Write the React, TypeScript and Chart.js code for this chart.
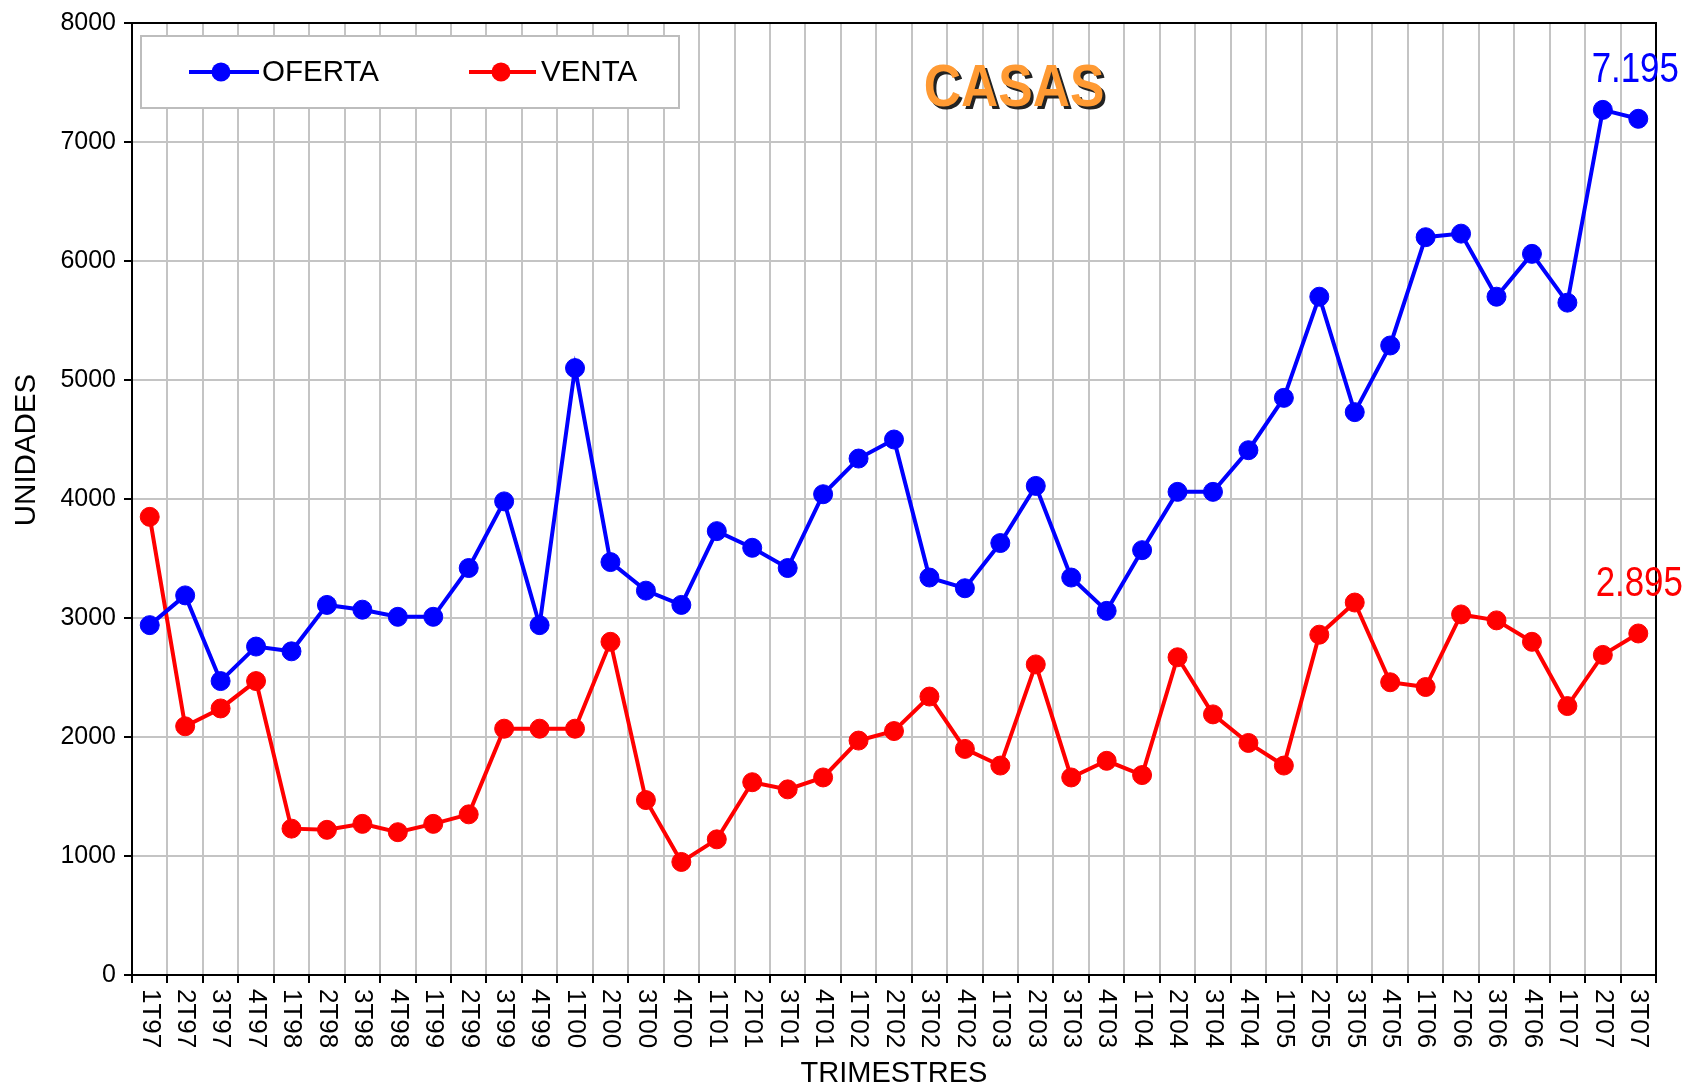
import React, { useEffect, useRef } from "react";
import { Chart, registerables } from "chart.js";

Chart.register(...registerables);

const quarters = [
  "1T97", "2T97", "3T97", "4T97",
  "1T98", "2T98", "3T98", "4T98",
  "1T99", "2T99", "3T99", "4T99",
  "1T00", "2T00", "3T00", "4T00",
  "1T01", "2T01", "3T01", "4T01",
  "1T02", "2T02", "3T02", "4T02",
  "1T03", "2T03", "3T03", "4T03",
  "1T04", "2T04", "3T04", "4T04",
  "1T05", "2T05", "3T05", "4T05",
  "1T06", "2T06", "3T06", "4T06",
  "1T07", "2T07", "3T07",
];

const oferta = [
  2940, 3190, 2470, 2760,
  2720, 3110, 3070, 3010,
  3010, 3420, 3980, 2940,
  5100, 3470, 3230, 3110,
  3730, 3590, 3420, 4040,
  4340, 4500, 3340, 3250,
  3630, 4110, 3340, 3060,
  3570, 4060, 4060, 4410,
  4850, 5700, 4730, 5290,
  6200, 6230, 5700, 6060,
  5650, 7270, 7195,
];

const venta = [
  3850, 2090, 2240, 2470,
  1230, 1220, 1270, 1200,
  1270, 1350, 2070, 2070,
  2070, 2800, 1470, 950,
  1140, 1620, 1560, 1660,
  1970, 2050, 2340, 1900,
  1760, 2610, 1660, 1800,
  1680, 2670, 2190, 1950,
  1760, 2860, 3130, 2460,
  2420, 3030, 2980, 2800,
  2260, 2690, 2870,
];

const seriesNames = ["OFERTA", "VENTA"];
const seriesColors = ["#0000FF", "#FF0000"];
const lastValueLabels = ["7.195", "2.895"];
const chartTitle = "CASAS";
const xAxisTitle = "TRIMESTRES";
const yAxisTitle = "UNIDADES";
const yMin = 0;
const yMax = 8000;
const yStep = 1000;

const FONT = '"Liberation Sans", Arial, sans-serif';

function drawScaledText(ctx: any, text: string, x: number, y: number, sx: number) {
  ctx.save();
  ctx.translate(x, y);
  ctx.scale(sx, 1);
  ctx.fillText(text, 0, 0);
  ctx.restore();
}

const overlayPlugin = {
  id: "overlay",
  afterDatasetsDraw(chart: any) {
    const { ctx, chartArea: ca } = chart;
    ctx.save();

    // frame around plot area
    ctx.strokeStyle = "#000";
    ctx.lineWidth = 2;
    ctx.strokeRect(ca.left, ca.top, ca.right - ca.left, ca.bottom - ca.top);

    // legend box
    const bx = ca.left + 9;
    const by = ca.top + 13;
    ctx.fillStyle = "#fff";
    ctx.fillRect(bx, by, 538, 72);
    ctx.strokeStyle = "#BDBDBD";
    ctx.lineWidth = 2;
    ctx.strokeRect(bx, by, 538, 72);
    const ly = by + 36;
    const items = [
      { x0: bx + 48, x1: bx + 118, dot: bx + 80, tx: bx + 121 },
      { x0: bx + 328, x1: bx + 395, dot: bx + 360, tx: bx + 400 },
    ];
    items.forEach((it, i) => {
      ctx.strokeStyle = seriesColors[i];
      ctx.lineWidth = 4;
      ctx.beginPath();
      ctx.moveTo(it.x0, ly);
      ctx.lineTo(it.x1, ly);
      ctx.stroke();
      ctx.fillStyle = seriesColors[i];
      ctx.beginPath();
      ctx.arc(it.dot, ly, 9.5, 0, Math.PI * 2);
      ctx.fill();
      ctx.fillStyle = "#000";
      ctx.font = `29.5px ${FONT}`;
      ctx.textAlign = "left";
      ctx.textBaseline = "middle";
      ctx.fillText(seriesNames[i], it.tx, ly + 1);
    });

    // title CASAS with shadow
    ctx.font = `bold 60px ${FONT}`;
    ctx.textAlign = "center";
    ctx.textBaseline = "alphabetic";
    const tx = 1014;
    const ty = 106;
    ctx.fillStyle = "#222";
    drawScaledText(ctx, chartTitle, tx + 3, ty + 3, 0.86);
    ctx.fillStyle = "#FF9A33";
    drawScaledText(ctx, chartTitle, tx, ty, 0.86);

    // last value labels
    const xs = chart.scales.x;
    const ys = chart.scales.y;
    const lastIdx = quarters.length - 1;
    const lastVals = [oferta[lastIdx], venta[lastIdx]];
    const dx = [-3, 1];
    ctx.font = `42px ${FONT}`;
    ctx.textAlign = "center";
    ctx.textBaseline = "alphabetic";
    lastValueLabels.forEach((lbl, i) => {
      const px = xs.getPixelForValue(lastIdx) + dx[i];
      const py = ys.getPixelForValue(lastVals[i]) - 37;
      ctx.fillStyle = seriesColors[i];
      drawScaledText(ctx, lbl, px, py, 0.83);
    });

    ctx.restore();
  },
  afterDraw(chart: any) {
    const { ctx, chartArea: ca } = chart;
    const xs = chart.scales.x;
    ctx.save();
    ctx.fillStyle = "#000";
    ctx.font = `26px ${FONT}`;
    ctx.textAlign = "left";
    ctx.textBaseline = "middle";
    quarters.forEach((q, i) => {
      const x = xs.getPixelForValue(i);
      ctx.save();
      ctx.translate(x, ca.bottom + 14);
      ctx.rotate(Math.PI / 2);
      ctx.fillText(q, 0, 0);
      ctx.restore();
    });
    // y axis title
    ctx.font = `29.5px ${FONT}`;
    ctx.textAlign = "center";
    ctx.save();
    ctx.translate(27, 450);
    ctx.rotate(-Math.PI / 2);
    ctx.fillText(yAxisTitle, 0, 0);
    ctx.restore();
    ctx.restore();
  },
};

export default function App() {
  const canvasRef = useRef<HTMLCanvasElement | null>(null);

  useEffect(() => {
    document.body.style.margin = "0";
    const canvas = canvasRef.current;
    if (!canvas) return;
    Chart.defaults.font.family = FONT;
    const mkDataset = (i: number, data: number[]) => ({
      label: seriesNames[i],
      data,
      borderColor: seriesColors[i],
      backgroundColor: seriesColors[i],
      pointBackgroundColor: seriesColors[i],
      pointBorderColor: seriesColors[i],
      borderWidth: 4,
      pointRadius: 9.5,
      pointBorderWidth: 1,
      tension: 0,
    });
    const chart = new Chart(canvas, {
      type: "line",
      data: {
        labels: quarters,
        datasets: [mkDataset(0, oferta), mkDataset(1, venta)],
      },
      options: {
        animation: false,
        responsive: false,
        maintainAspectRatio: false,
        devicePixelRatio: 1,
        layout: { padding: { top: 23, right: 34, left: 0, bottom: 0 } },
        plugins: {
          legend: { display: false },
          tooltip: { enabled: false },
          title: { display: false },
        },
        scales: {
          x: {
            type: "category",
            offset: true,
            grid: {
              offset: true,
              color: "#C4C4C4",
              lineWidth: 2,
              tickColor: "#000",
              tickLength: 8,
              tickWidth: 2,
            },
            border: { color: "#000", width: 2 },
            ticks: { display: false },
            title: {
              display: true,
              text: xAxisTitle,
              color: "#000",
              font: { size: 29, lineHeight: 1 },
              padding: 0,
            },
            afterFit: (scale: any) => {
              scale.height = 113;
            },
          },
          y: {
            min: yMin,
            max: yMax,
            grid: {
              color: "#C4C4C4",
              lineWidth: 2,
              tickColor: "#000",
              tickLength: 8,
              tickWidth: 2,
            },
            border: { color: "#000", width: 2 },
            ticks: {
              stepSize: yStep,
              color: "#000",
              font: { size: 25 },
              padding: 8,
              callback: (v: any) => String(v),
            },
            afterFit: (scale: any) => {
              scale.width = 132;
            },
          },
        },
      },
      plugins: [overlayPlugin],
    });
    return () => chart.destroy();
  }, []);

  return (
    <div style={{ position: "absolute", left: 0, top: 0, width: 1690, height: 1088, background: "#fff" }}>
      <canvas ref={canvasRef} width={1690} height={1088} />
    </div>
  );
}
